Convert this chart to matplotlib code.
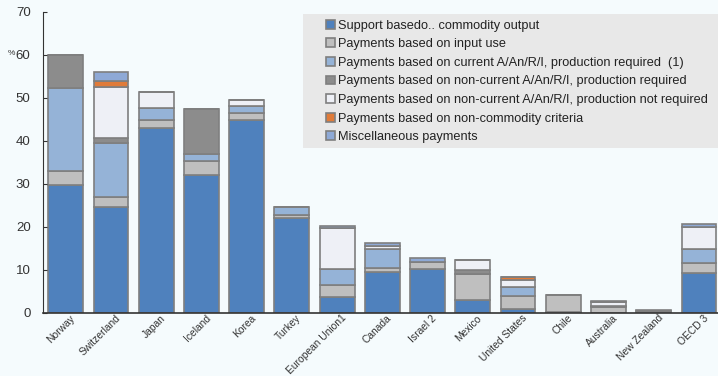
import numpy as np
import matplotlib.pyplot as plt
import matplotlib.transforms as mtransforms
from matplotlib.patches import Rectangle

plt.rcParams['font.family'] = ['Liberation Sans', 'DejaVu Sans']

countries = ['Norway', 'Switzerland', 'Japan', 'Iceland', 'Korea', 'Turkey',
             'European Union1', 'Canada', 'Israel 2', 'Mexico', 'United States',
             'Chile', 'Australia', 'New Zealand', 'OECD 3']

labels = ['Support basedo.. commodity output',
          'Payments based on input use',
          'Payments based on current A/An/R/I, production required  (1)',
          'Payments based on non-current A/An/R/I, production required',
          'Payments based on non-current A/An/R/I, production not required',
          'Payments based on non-commodity criteria',
          'Miscellaneous payments']

commodity    = [29.8, 24.7, 43.1, 32.1, 44.9, 22.1, 3.8, 9.6, 10.2, 3.0, 0.9, 0.3, 0.1, 0.1, 9.4]
input_use    = [3.2, 2.2, 1.8, 3.2, 1.5, 0.7, 2.7, 0.8, 1.7, 6.1, 3.1, 3.9, 1.3, 0.4, 2.3]
current_req  = [19.3, 12.6, 2.7, 1.6, 1.7, 1.9, 3.7, 4.5, 0.0, 0.0, 2.0, 0.0, 0.3, 0.0, 3.1]
noncur_req   = [7.8, 1.1, 0.0, 10.6, 0.0, 0.0, 0.0, 0.0, 0.0, 0.9, 0.0, 0.0, 0.0, 0.0, 0.0]
noncur_noreq = [0.0, 11.9, 3.7, 0.0, 1.4, 0.0, 9.5, 0.7, 0.0, 2.3, 1.7, 0.0, 0.9, 0.0, 5.1]
noncommodity = [0.0, 1.5, 0.0, 0.0, 0.0, 0.0, 0.0, 0.0, 0.0, 0.0, 0.7, 0.0, 0.0, 0.0, 0.0]
misc         = [0.0, 2.1, 0.0, 0.0, 0.0, 0.0, 0.5, 0.7, 0.8, 0.0, 0.0, 0.0, 0.3, 0.3, 0.7]

series = [commodity, input_use, current_req, noncur_req, noncur_noreq, noncommodity, misc]
colors = ['#4F81BD', '#BFBFBF', '#95B3D7', '#8C8C8C', '#EEF0F6', '#E07B39', '#8EA9D6']

fig = plt.figure(figsize=(7.18, 3.76), dpi=100)
fig.patch.set_facecolor('#F5FBFD')
ax = fig.add_axes([0.060, 0.1676, 0.940, 0.8005])
ax.set_facecolor('#F5FBFD')

x = np.arange(len(countries))
bottom = np.zeros(len(countries))
for vals, col, lab in zip(series, colors, labels):
    vals = np.array(vals)
    ax.bar(x, vals, 0.77, bottom=bottom, color=col, edgecolor='#7F7F7F',
           linewidth=1.2, label=lab)
    bottom += vals

ax.set_xlim(-0.5, 14.42)
ax.set_ylim(0, 70)
ax.set_yticks(range(0, 71, 10))
ax.tick_params(axis='y', direction='in', length=3, labelsize=9.5, colors='#333333', pad=9)
ax.tick_params(axis='x', length=0, labelsize=7.4, colors='#333333', pad=0)
ax.set_xticks(x)
ax.set_xticklabels(countries, rotation=45, ha='right', rotation_mode='anchor')
shift = mtransforms.ScaledTranslation(4 / 100, 0, fig.dpi_scale_trans)
for t in ax.get_xticklabels():
    t.set_transform(t.get_transform() + shift)
for s in ['top', 'right']:
    ax.spines[s].set_visible(False)
ax.spines['left'].set_color('#333333')
ax.spines['bottom'].set_color('#333333')
ax.spines['bottom'].set_linewidth(1.2)

fig.text(0.011, 0.855, '%', fontsize=6, color='#333333')

# legend box drawn as a plain grey panel
fig.patches.append(Rectangle((303 / 718, 1 - 148 / 376), 415 / 718, 134 / 376,
                             transform=fig.transFigure, facecolor='#E8E8E8',
                             edgecolor='none', zorder=2))
leg = fig.legend(loc='upper left', bbox_to_anchor=(323 / 718, 1 - 17 / 376), fontsize=9.2,
                 frameon=False, handlelength=0.7, handleheight=0.7,
                 handletextpad=0.25, labelspacing=0.52, borderpad=0.2,
                 borderaxespad=0)
leg.set_zorder(3)
for t in leg.get_texts():
    t.set_color('#222222')

fig.savefig('out.png', dpi=100, facecolor=fig.get_facecolor())
